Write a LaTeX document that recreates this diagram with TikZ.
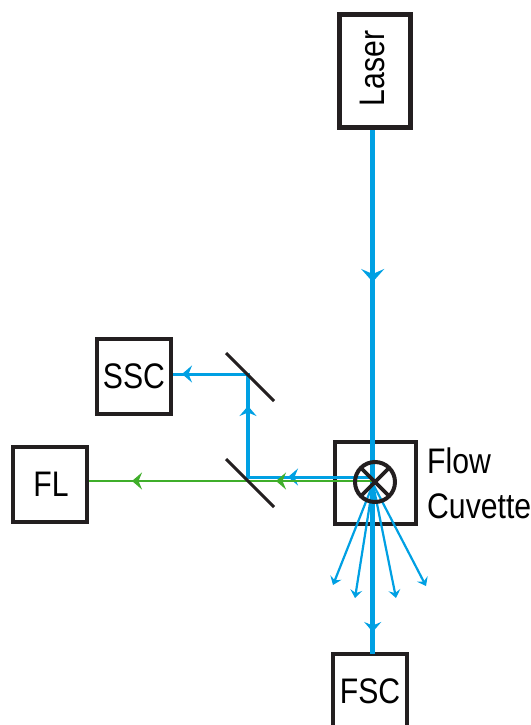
\documentclass[tikz,border=0pt]{standalone}
\usepackage{fontspec}
\setmainfont[FakeStretch=0.85]{Liberation Sans}
\usetikzlibrary{arrows.meta}
\definecolor{beamblue}{HTML}{00A0E3}
\definecolor{beamgreen}{HTML}{3FAE2A}
\definecolor{inkblack}{HTML}{231F20}
\tikzset{
  x=1pt,y=-1pt,
  labeltext/.style={font=\fontsize{35.5}{35.5}\selectfont,text=black,inner sep=0pt},
  boxnode/.style={draw=inkblack,line width=4pt,rectangle,inner sep=0pt,outer sep=0pt,labeltext,minimum width=74pt,minimum height=75pt},
  mirror/.style={draw=inkblack,line width=3pt},
  bigtip/.style={-{Stealth[length=13pt,width=23pt,inset=5pt]}},
  medtip/.style={-{Stealth[length=10pt,width=17pt,inset=3.5pt]}},
  smalltip/.style={-{Stealth[length=8pt,width=12pt,inset=3pt]}},
  mainbeam/.style={draw=beamblue,line width=5pt},
  sidebeam/.style={draw=beamblue,line width=3pt},
  upbeam/.style={draw=beamblue,line width=3.4pt},
  raybeam/.style={draw=beamblue,line width=2.2pt},
  flbeam/.style={draw=beamgreen,line width=2.7pt},
}
\begin{document}
\begin{tikzpicture}
\useasboundingbox (0,0) rectangle (530,725);
\clip (0,0) rectangle (530,725);
% boxes
\node[boxnode,rotate=90,line width=5pt,minimum width=113pt,minimum height=71pt] (laser) at (375,71) {\raisebox{5pt}{\hspace{5pt}Laser}};
\node[boxnode,minimum width=74pt,minimum height=80pt] (fsc) at (370,694) {\raisebox{6pt}{FSC}};
\node[boxnode] (ssc) at (134,376.5) {\raisebox{-3pt}{SSC}};
\node[boxnode] (fl) at (50,484) {\raisebox{-1pt}{\hspace{2pt}FL}};
\node[boxnode,minimum width=81pt,minimum height=82pt] (cuvette) at (375.5,483) {};
\node[labeltext,anchor=base west,align=left] (flow) at (427,473) {Flow};
\node[labeltext,anchor=base west,align=left] (cuvettelabel) at (427,518) {Cuvette};
% points on the beams
\coordinate (laserout) at (372.7,130);
\coordinate (tipa) at (372.7,282);
\coordinate (cuvc) at (372.7,482);
\coordinate (tipb) at (372.7,632);
\coordinate (fscin) at (372.7,654);
\coordinate (centre) at (373,484);
\coordinate (rayA) at (333,585);
\coordinate (rayB) at (355,598);
\coordinate (rayC) at (396,598);
\coordinate (rayD) at (426,586);
\coordinate (sidestart) at (372,477);
\coordinate (sidetip) at (288,477);
\coordinate (sidecorner) at (246.3,477);
\coordinate (uptip) at (248,406);
\coordinate (upbase) at (248,477);
\coordinate (upcorner) at (248,372.6);
\coordinate (ssctip) at (182,374);
\coordinate (sscstart) at (248,374);
\coordinate (sscin) at (173,374);
\coordinate (greenstart) at (372,481);
\coordinate (greentipa) at (276,481);
\coordinate (greentipb) at (132,481);
\coordinate (flin) at (89,481);
\coordinate (mirrorAa) at (226,353);
\coordinate (mirrorAb) at (274,401);
\coordinate (mirrorBa) at (226,459);
\coordinate (mirrorBb) at (274,507);
% beams: a plain line, then the segment that carries the head
\draw[mainbeam] (laserout) -- (fscin);
\draw[mainbeam,bigtip] (laserout) -- (tipa);
\draw[mainbeam,medtip] (cuvc) -- (tipb);
\draw[raybeam,smalltip] (centre) -- (rayA);
\draw[raybeam,smalltip] (centre) -- (rayB);
\draw[raybeam,smalltip] (centre) -- (rayC);
\draw[raybeam,smalltip] (centre) -- (rayD);
\draw[sidebeam] (sidestart) -- (sidecorner);
\draw[sidebeam,medtip] (sidestart) -- (sidetip);
\draw[upbeam] (upbase) -- (upcorner);
\draw[upbeam,medtip] (upbase) -- (uptip);
\draw[sidebeam] (sscstart) -- (sscin);
\draw[sidebeam,medtip] (sscstart) -- (ssctip);
\draw[flbeam] (greenstart) -- (flin);
\draw[flbeam,medtip] (greenstart) -- (greentipa);
\draw[flbeam,medtip] (greentipa) -- (greentipb);
% mirrors
\draw[mirror] (mirrorAa) -- (mirrorAb);
\draw[mirror] (mirrorBa) -- (mirrorBb);
% flow symbol
\node[circle,draw=inkblack,line width=4pt,minimum size=40pt,inner sep=0pt,outer sep=0pt] (flowcell) at (375,482) {};
\draw[draw=inkblack,line width=3.6pt] (flowcell.north west) -- (flowcell.south east);
\draw[draw=inkblack,line width=3.6pt] (flowcell.north east) -- (flowcell.south west);
\end{tikzpicture}
\end{document}
